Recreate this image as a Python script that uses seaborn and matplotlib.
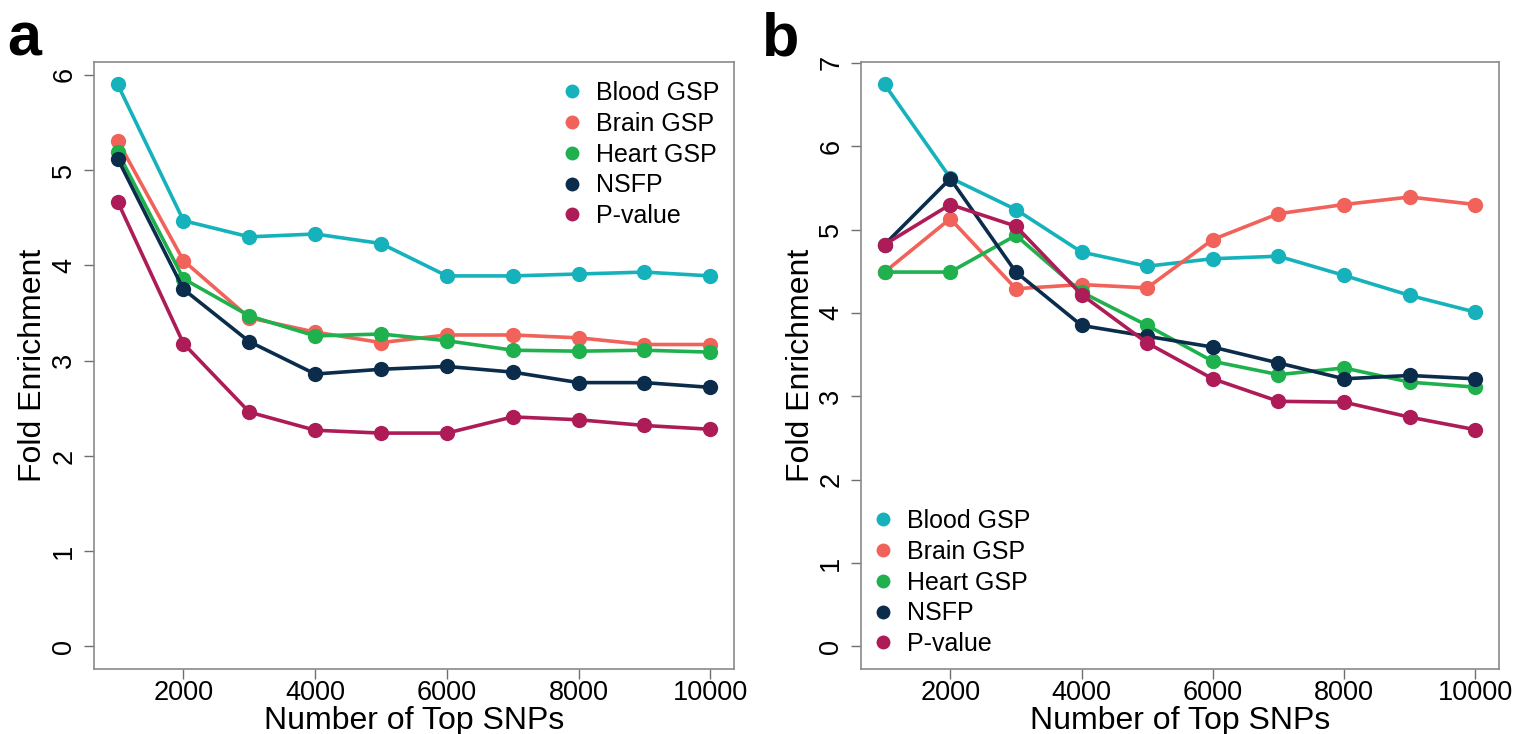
import numpy as np
import pandas as pd
import matplotlib
matplotlib.use("Agg")
import matplotlib.pyplot as plt
from matplotlib.lines import Line2D
import seaborn as sns

# Number of top SNPs considered
top_snps = [1000, 2000, 3000, 4000, 5000, 6000, 7000, 8000, 9000, 10000]
methods = ["Blood GSP", "Brain GSP", "Heart GSP", "NSFP", "P-value"]

# Panel a: fold enrichment
a_blood = [5.90, 4.47, 4.30, 4.33, 4.23, 3.89, 3.89, 3.91, 3.93, 3.89]
a_brain = [5.31, 4.05, 3.45, 3.30, 3.19, 3.27, 3.27, 3.24, 3.17, 3.17]
a_heart = [5.19, 3.86, 3.47, 3.26, 3.28, 3.21, 3.11, 3.10, 3.11, 3.09]
a_nsfp = [5.12, 3.75, 3.20, 2.86, 2.91, 2.94, 2.88, 2.77, 2.77, 2.72]
a_pval = [4.67, 3.18, 2.46, 2.27, 2.24, 2.24, 2.41, 2.38, 2.32, 2.28]

# Panel b: fold enrichment
b_blood = [6.74, 5.62, 5.24, 4.73, 4.56, 4.65, 4.68, 4.45, 4.21, 4.01]
b_brain = [4.49, 5.13, 4.29, 4.34, 4.30, 4.88, 5.19, 5.30, 5.39, 5.30]
b_heart = [4.49, 4.49, 4.93, 4.25, 3.85, 3.42, 3.26, 3.34, 3.17, 3.11]
b_nsfp = [4.82, 5.61, 4.49, 3.85, 3.72, 3.59, 3.40, 3.21, 3.25, 3.21]
b_pval = [4.82, 5.30, 5.04, 4.22, 3.64, 3.21, 2.94, 2.93, 2.75, 2.60]

colors = ["#16B2BB", "#F0625A", "#1FB14D", "#0B2D4B", "#AE1C58"]

x_ticks = [2000, 4000, 6000, 8000, 10000]

sns.set_theme(style="white")
plt.rcParams["font.family"] = ["Liberation Sans", "DejaVu Sans"]
plt.rcParams["text.color"] = "black"
plt.rcParams["axes.labelcolor"] = "black"


def long_frame(series):
    rows = []
    for name, vals in zip(methods, series):
        for x, v in zip(top_snps, vals):
            rows.append({"snps": x, "fold": v, "method": name})
    return pd.DataFrame(rows)


def draw_panel(ax, series, y_ticks, legend_anchor):
    df = long_frame(series)
    sns.lineplot(data=df, x="snps", y="fold", hue="method", hue_order=methods,
                 palette=colors, marker="o", markersize=11, markeredgewidth=0,
                 linewidth=2.6, legend=False, ax=ax)
    ymax = df["fold"].max()
    ax.set_ylim(-0.04 * ymax, 1.04 * ymax)
    span = top_snps[-1] - top_snps[0]
    ax.set_xlim(top_snps[0] - 0.04 * span, top_snps[-1] + 0.04 * span)
    ax.set_xticks(x_ticks)
    ax.set_xticklabels([str(t) for t in x_ticks])
    ax.set_yticks(y_ticks)
    ax.set_yticklabels([str(t) for t in y_ticks], rotation=90, va="center")
    ax.tick_params(axis="both", which="both", direction="out", length=7,
                   width=1.0, color="#6E6E6E", labelsize=19.5, labelcolor="black",
                   bottom=True, left=True)
    ax.tick_params(axis="x", pad=1)
    ax.tick_params(axis="y", pad=5)
    for s in ax.spines.values():
        s.set_color("#8A8A8A")
        s.set_linewidth(1.2)
    ax.set_xlabel("Number of Top SNPs", fontsize=23, labelpad=0)
    ax.set_ylabel("Fold Enrichment", fontsize=23, labelpad=2)
    handles = [Line2D([0], [0], marker="o", color="none", markerfacecolor=c,
                      markeredgewidth=0, markersize=10) for c in colors]
    ax.legend(handles, methods, loc="upper left", bbox_to_anchor=legend_anchor,
              frameon=False, fontsize=18, handletextpad=0.35,
              labelspacing=0.27, handlelength=1.2, borderaxespad=0)


fig = plt.figure(figsize=(15.15, 7.34), dpi=100)
ax_a = fig.add_axes([0.062, 0.0886, 0.4225, 0.827])
ax_b = fig.add_axes([0.5683, 0.0886, 0.4211, 0.827])

draw_panel(ax_a, [a_blood, a_brain, a_heart, a_nsfp, a_pval],
           [0, 1, 2, 3, 4, 5, 6], (0.708, 0.985))
draw_panel(ax_b, [b_blood, b_brain, b_heart, b_nsfp, b_pval],
           [0, 1, 2, 3, 4, 5, 6, 7], (-0.004, 0.28))

fig.text(0.005, 0.985, "a", fontsize=44, fontweight="bold", va="top", ha="left")
fig.text(0.503, 0.985, "b", fontsize=44, fontweight="bold", va="top", ha="left")

fig.savefig("out.png", dpi=100)
